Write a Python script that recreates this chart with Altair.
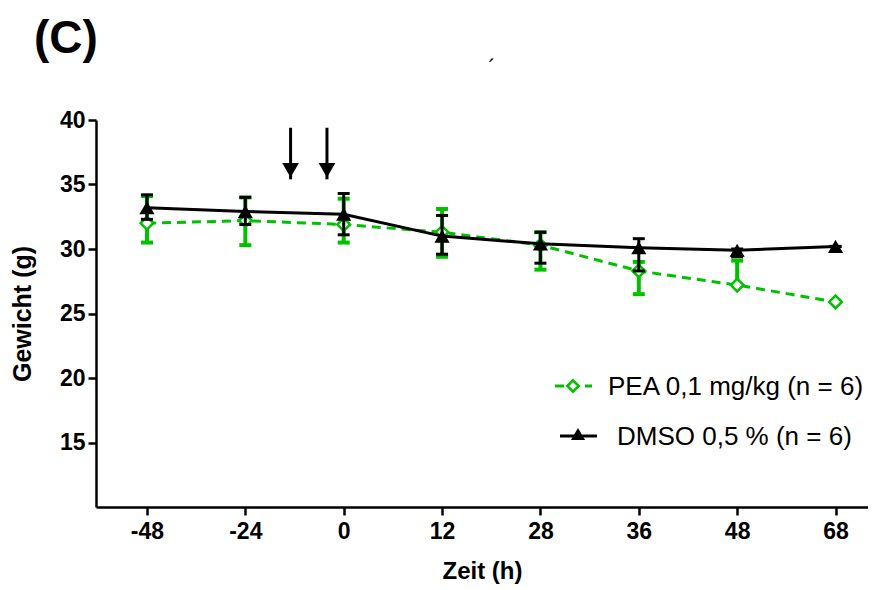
import altair as alt
import pandas as pd

# ---- data ----
time_labels = ["-48", "-24", "0", "12", "28", "36", "48", "68"]

pea_mean  = [32.0, 32.2, 31.9, 31.3, 30.3, 28.3, 27.2, 25.9]
pea_upper = [34.1, 34.0, 33.9, 33.1, 31.3, 29.0, 29.1, 25.9]
pea_lower = [30.5, 30.3, 30.5, 29.4, 28.4, 26.5, 27.2, 25.9]

dmso_mean  = [33.2, 32.9, 32.7, 31.0, 30.4, 30.1, 29.9, 30.2]
dmso_upper = [34.2, 34.0, 34.3, 32.6, 31.3, 30.8, 30.0, 30.2]
dmso_lower = [32.3, 31.9, 31.1, 29.6, 28.9, 28.3, 29.4, 30.2]

series_names = ["PEA 0,1 mg/kg (n = 6)", "DMSO 0,5 % (n = 6)"]
arrow_pos = [1.46, 1.83]      # position along the time axis (category index)
arrow_top = [39.4, 39.4]
arrow_tip = [35.4, 35.4]

GREEN = "#00c000"
BLACK = "#000000"
FONT = "Liberation Sans"

idx = list(range(len(time_labels)))
pea = pd.DataFrame({"i": idx, "m": pea_mean, "hi": pea_upper, "lo": pea_lower})
dmso = pd.DataFrame({"i": idx, "m": dmso_mean, "hi": dmso_upper, "lo": dmso_lower})
arrows = pd.DataFrame({"i": arrow_pos, "top": arrow_top, "tip": arrow_tip})

label_expr = "[" + ",".join("'%s'" % t for t in time_labels) + "][datum.value]"

xscale = alt.Scale(domain=[-0.518, 7.33], nice=False, zero=False)
yscale = alt.Scale(domain=[10, 40], nice=False, zero=False)

X = alt.X("i:Q", scale=xscale, axis=alt.Axis(
    values=idx, labelExpr=label_expr, title="Zeit (h)", grid=False,
    domainColor=BLACK, domainWidth=2.5, tickColor=BLACK, tickWidth=2.5, tickSize=8,
    labelFont=FONT, labelFontSize=23, labelFontWeight="bold", labelColor=BLACK,
    labelPadding=5, titleFont=FONT, titleFontSize=24, titleFontWeight="bold",
    titleColor=BLACK, titlePadding=16))
Y = alt.Y("m:Q", scale=yscale, axis=alt.Axis(
    values=[15, 20, 25, 30, 35, 40], title="Gewicht (g)", grid=False,
    domainColor=BLACK, domainWidth=2.5, tickColor=BLACK, tickWidth=2.5, tickSize=8,
    labelFont=FONT, labelFontSize=23, labelFontWeight="bold", labelColor=BLACK,
    labelPadding=3, titleFont=FONT, titleFontSize=25, titleFontWeight="bold",
    titleColor=BLACK, titlePadding=24))

def err_layers(df, color, w):
    base = alt.Chart(df)
    bar = base.mark_rule(color=color, strokeWidth=w).encode(
        x=alt.X("i:Q", scale=xscale), y=alt.Y("lo:Q", scale=yscale), y2="hi:Q")
    cap_hi = base.mark_rule(color=color, strokeWidth=w, xOffset=-6, x2Offset=6).encode(
        x=alt.X("i:Q", scale=xscale), x2="i:Q", y=alt.Y("hi:Q", scale=yscale))
    cap_lo = base.mark_rule(color=color, strokeWidth=w, xOffset=-6, x2Offset=6).encode(
        x=alt.X("i:Q", scale=xscale), x2="i:Q", y=alt.Y("lo:Q", scale=yscale))
    return [bar, cap_hi, cap_lo]

pea_line = alt.Chart(pea).mark_line(color=GREEN, strokeWidth=3, strokeDash=[9, 6]).encode(x=X, y=Y)
pea_pts = alt.Chart(pea).mark_point(shape="diamond", size=160, filled=True, fill="white",
                                    stroke=GREEN, strokeWidth=2.5, opacity=1).encode(
    x=alt.X("i:Q", scale=xscale), y=alt.Y("m:Q", scale=yscale))
dmso_line = alt.Chart(dmso).mark_line(color=BLACK, strokeWidth=3).encode(
    x=alt.X("i:Q", scale=xscale), y=alt.Y("m:Q", scale=yscale))
dmso_pts = alt.Chart(dmso).mark_point(shape="triangle-up", size=230, filled=True,
                                      color=BLACK, opacity=1).encode(
    x=alt.X("i:Q", scale=xscale), y=alt.Y("m:Q", scale=yscale))

arrow_shaft = alt.Chart(arrows).mark_rule(color=BLACK, strokeWidth=3).encode(
    x=alt.X("i:Q", scale=xscale), y=alt.Y("top:Q", scale=yscale), y2="tip:Q")
arrow_head = alt.Chart(arrows).mark_point(shape="triangle-down", size=280, filled=True,
                                          color=BLACK, opacity=1, yOffset=-9).encode(
    x=alt.X("i:Q", scale=xscale), y=alt.Y("tip:Q", scale=yscale))

# ---- manual legend (pixel positions relative to plot area) ----
leg = alt.Chart(pd.DataFrame({"a": [0]}))
leg_pea_line = leg.mark_rule(color=GREEN, strokeWidth=3, strokeDash=[9, 6]).encode(
    x=alt.value(459), x2=alt.value(496), y=alt.value(266))
leg_pea_pt = leg.mark_point(shape="diamond", size=130, filled=True, fill="white",
                            stroke=GREEN, strokeWidth=2.5, opacity=1).encode(
    x=alt.value(477), y=alt.value(266))
leg_pea_txt = leg.mark_text(align="left", baseline="middle", font=FONT, fontSize=26,
                            color=BLACK).encode(
    x=alt.value(512), y=alt.value(267), text=alt.value(series_names[0]))
leg_dmso_line = leg.mark_rule(color=BLACK, strokeWidth=3).encode(
    x=alt.value(464), x2=alt.value(501), y=alt.value(316))
leg_dmso_pt = leg.mark_point(shape="triangle-up", size=200, filled=True,
                             color=BLACK, opacity=1).encode(
    x=alt.value(482), y=alt.value(314))
leg_dmso_txt = leg.mark_text(align="left", baseline="middle", font=FONT, fontSize=26,
                             color=BLACK).encode(
    x=alt.value(521), y=alt.value(317), text=alt.value(series_names[1]))

panel_label = leg.mark_text(align="left", baseline="alphabetic", font=FONT, fontSize=46,
                            fontWeight="bold", color=BLACK).encode(
    x=alt.value(-62), y=alt.value(-67), text=alt.value("(C)"))
stray = leg.mark_text(align="center", baseline="middle", font=FONT, fontSize=22,
                      color=BLACK).encode(
    x=alt.value(396), y=alt.value(-52), text=alt.value("\u00b4"))

layers = ([pea_line] + err_layers(pea, GREEN, 4) + [pea_pts]
          + [dmso_line] + err_layers(dmso, BLACK, 3) + [dmso_pts]
          + [arrow_shaft, arrow_head,
             leg_pea_line, leg_pea_pt, leg_pea_txt,
             leg_dmso_line, leg_dmso_pt, leg_dmso_txt, panel_label, stray])

chart = alt.layer(*layers).properties(
    width=772, height=387,
    autosize=alt.AutoSizeParams(type="none"),
    padding={"left": 88, "top": 112, "right": 0, "bottom": 80},
).configure(background="white").configure_view(strokeWidth=0)

chart.save("out.html", embed_options={"renderer": "svg", "actions": False})
